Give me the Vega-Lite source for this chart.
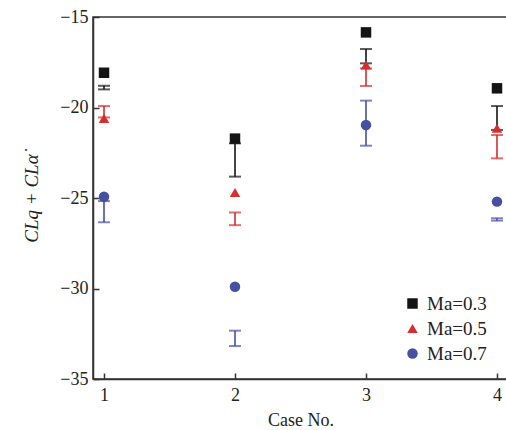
{
  "$schema": "https://vega.github.io/schema/vega-lite/v6.json",
  "width": 415,
  "height": 362,
  "autosize": {"type": "none"},
  "padding": {"left": 93, "top": 17, "right": 0, "bottom": 51},
  "background": "white",
  "config": {
    "view": {"stroke": "#333333", "strokeWidth": 1.5},
    "font": "Liberation Serif",
    "axis": {
      "labelFont": "Liberation Serif",
      "titleFont": "Liberation Serif",
      "labelFontSize": 18,
      "titleFontSize": 18,
      "labelColor": "#222222",
      "titleColor": "#222222",
      "titleFontWeight": "normal",
      "domainColor": "#333333",
      "domainWidth": 1.5,
      "tickColor": "#333333",
      "tickWidth": 1.5,
      "grid": false
    },
    "legend": {
      "orient": "none", "legendX": 310, "legendY": 277, "title": null,
      "labelFont": "Liberation Serif", "labelFontSize": 19, "labelColor": "#222222",
      "symbolSize": 110, "symbolStrokeWidth": 0, "symbolOpacity": 1, "labelOffset": 5, "rowPadding": 5, "padding": 0
    }
  },
  "data": {
    "values": [
      {"case": 1, "ma": "0.3", "value": -18.08, "hi": -18.8, "lo": -19.0},
      {"case": 1, "ma": "0.5", "value": -20.6, "hi": -19.92, "lo": -20.55},
      {"case": 1, "ma": "0.7", "value": -24.93, "hi": -25.17, "lo": -26.34},
      {"case": 2, "ma": "0.3", "value": -21.72, "hi": -21.98, "lo": -23.82},
      {"case": 2, "ma": "0.5", "value": -24.7, "hi": -25.8, "lo": -26.5},
      {"case": 2, "ma": "0.7", "value": -29.9, "hi": -32.33, "lo": -33.18},
      {"case": 3, "ma": "0.3", "value": -15.85, "hi": -16.77, "lo": -17.56},
      {"case": 3, "ma": "0.5", "value": -17.65, "hi": -17.84, "lo": -18.81},
      {"case": 3, "ma": "0.7", "value": -20.97, "hi": -19.62, "lo": -22.11},
      {"case": 4, "ma": "0.3", "value": -18.94, "hi": -19.92, "lo": -21.24},
      {"case": 4, "ma": "0.5", "value": -21.15, "hi": -21.52, "lo": -22.81},
      {"case": 4, "ma": "0.7", "value": -25.2, "hi": -26.12, "lo": -26.25}
    ]
  },
  "encoding": {
    "x": {
      "field": "case", "type": "quantitative",
      "scale": {"domain": [0.916, 4.084], "nice": false, "zero": false},
      "axis": {"values": [1, 2, 3, 4], "tickSize": -6, "labelPadding": 13, "title": "Case No.", "titlePadding": 7, "format": "d"}
    },
    "y": {
      "type": "quantitative",
      "scale": {"domain": [-35, -15], "nice": false, "zero": false},
      "axis": {"values": [-35, -30, -25, -20, -15], "tickSize": -6, "labelPadding": 11, "title": "CLq + CLα̇", "titleFontStyle": "italic", "titleFontSize": 19, "titlePadding": 18}
    },
    "color": {
      "field": "ma", "type": "nominal",
      "scale": {"domain": ["0.3", "0.5", "0.7"], "range": ["#141414", "#d42e2e", "#4650a2"]},
      "legend": {"labelExpr": "'Ma=' + datum.label"}
    }
  },
  "layer": [
    {
      "mark": {"type": "rule", "strokeWidth": 1.6},
      "encoding": {"y": {"field": "hi", "type": "quantitative"}, "y2": {"field": "lo"}}
    },
    {
      "mark": {"type": "tick", "orient": "horizontal", "size": 12, "thickness": 2},
      "encoding": {"y": {"field": "hi", "type": "quantitative"}}
    },
    {
      "mark": {"type": "tick", "orient": "horizontal", "size": 12, "thickness": 2},
      "encoding": {"y": {"field": "lo", "type": "quantitative"}}
    },
    {
      "mark": {"type": "point", "filled": true, "opacity": 1, "size": 110},
      "encoding": {
        "y": {"field": "value", "type": "quantitative"},
        "shape": {"field": "ma", "type": "nominal", "scale": {"domain": ["0.3", "0.5", "0.7"], "range": ["square", "triangle-up", "circle"]}, "legend": {"labelExpr": "'Ma=' + datum.label"}}
      }
    }
  ]
}
